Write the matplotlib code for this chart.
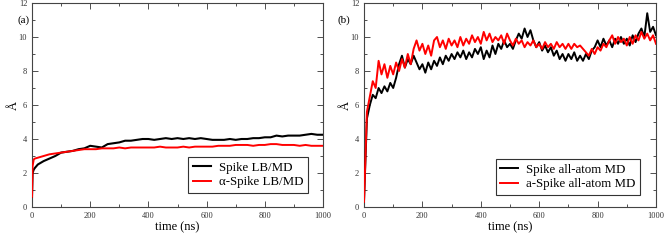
import numpy as np
import matplotlib.pyplot as plt
from matplotlib.ticker import MultipleLocator

plt.rcParams['font.family'] = ['Liberation Serif', 'DejaVu Serif']

# (a) LB/MD runs
t_a = [0, 2, 6, 10] + list(range(20, 1001, 20))
spike_lb = [0.6, 2.0, 2.2, 2.3, 2.5, 2.7, 2.85, 3.0, 3.2, 3.25, 3.3, 3.4, 3.45, 3.6,
            3.55, 3.5, 3.7, 3.75, 3.8, 3.9, 3.9, 3.95, 4.0, 4.0, 3.95, 4.0, 4.05, 4.0,
            4.05, 4.0, 4.05, 4.0, 4.05, 4.0, 3.95, 3.95, 3.95, 4.0, 3.95, 4.0, 4.0,
            4.05, 4.05, 4.1, 4.1, 4.2, 4.15, 4.2, 4.2, 4.2, 4.25, 4.3, 4.25, 4.25]
aspike_lb = [0.6, 2.4, 2.8, 2.85, 2.9, 3.0, 3.1, 3.15, 3.2, 3.25, 3.3, 3.35, 3.4, 3.4,
             3.4, 3.45, 3.45, 3.45, 3.5, 3.45, 3.5, 3.5, 3.5, 3.5, 3.5, 3.55, 3.5, 3.5,
             3.5, 3.55, 3.5, 3.55, 3.55, 3.55, 3.55, 3.6, 3.6, 3.6, 3.65, 3.65, 3.65,
             3.6, 3.65, 3.65, 3.7, 3.7, 3.65, 3.65, 3.65, 3.6, 3.65, 3.6, 3.6, 3.6]

# (b) all-atom MD runs
t_b = list(range(0, 1001, 10))
spike_aa = [0.3, 5.2, 6.0, 6.6, 6.4, 7.0, 6.7, 7.1, 6.8, 7.3, 7.0, 7.6, 8.4, 8.9, 8.2,
            8.7, 8.4, 8.9, 8.5, 8.1, 8.4, 7.9, 8.5, 8.1, 8.6, 8.3, 8.8, 8.4, 8.9, 8.6,
            9.0, 8.7, 9.1, 8.8, 9.2, 8.7, 9.1, 8.8, 9.3, 9.0, 9.4, 8.7, 9.2, 8.8, 9.5,
            9.0, 9.6, 9.3, 9.8, 9.4, 9.6, 9.3, 9.8, 10.2, 9.9, 10.5, 10.0, 10.4, 9.8,
            9.4, 9.7, 9.2, 9.5, 9.1, 9.4, 8.9, 9.2, 8.7, 9.0, 8.6, 9.0, 8.7, 9.1, 8.6,
            8.9, 8.6, 9.0, 8.7, 9.2, 9.4, 9.8, 9.4, 9.9, 9.5, 9.8, 9.4, 9.9, 9.6, 10.0,
            9.6, 9.9, 9.5, 10.1, 9.7, 10.2, 10.5, 10.0, 11.4, 10.3, 10.6, 10.1]
aspike_aa = [0.3, 5.6, 6.5, 7.4, 7.0, 8.6, 7.8, 8.4, 7.6, 8.3, 7.8, 8.5, 8.0, 8.7, 8.2,
             9.0, 8.4, 9.3, 9.8, 9.2, 9.6, 9.0, 9.5, 8.9, 9.8, 10.0, 9.4, 9.8, 9.3, 9.9,
             9.5, 9.8, 9.4, 10.0, 9.5, 9.9, 9.6, 10.1, 9.7, 10.0, 9.6, 10.3, 9.8, 10.2,
             9.7, 10.0, 9.8, 10.1, 9.6, 10.2, 9.8, 9.5, 9.9, 9.6, 9.8, 9.4, 9.7, 9.5,
             9.8, 9.4, 9.6, 9.3, 9.7, 9.4, 9.6, 9.3, 9.7, 9.4, 9.6, 9.3, 9.6, 9.3, 9.6,
             9.4, 9.5, 9.3, 9.1, 8.9, 9.3, 9.0, 9.4, 9.2, 9.6, 9.4, 9.8, 10.1, 9.6, 10.0,
             9.7, 9.9, 9.5, 10.0, 9.6, 10.1, 9.8, 10.3, 9.9, 10.2, 9.8, 10.1, 9.6]

fig = plt.figure(figsize=(6.64, 2.44), dpi=100)
ax1 = fig.add_axes([32/664, 37/244, 291/664, 204/244])
ax2 = fig.add_axes([364/664, 37/244, 292/664, 204/244])

# lines drawn above the spines so the steep first rise stays visible
ax1.plot(t_a, spike_lb, color='black', lw=1.5, label='Spike LB/MD', zorder=3)
ax1.plot(t_a, aspike_lb, color='red', lw=1.4, label='α-Spike LB/MD', zorder=3)
ax2.plot(t_b, spike_aa, color='black', lw=1.4, label='Spike all-atom MD', zorder=3)
ax2.plot(t_b, aspike_aa, color='red', lw=1.4, label='a-Spike all-atom MD', zorder=3)

for ax, lab, xo, anchor in [(ax1, '(a)', -0.03, (0.948, 0.069)), (ax2, '(b)', -0.068, (0.945, 0.059))]:
    ax.set_xlim(0, 1000)
    ax.set_ylim(0, 12)
    ax.xaxis.set_major_locator(MultipleLocator(200))
    ax.xaxis.set_minor_locator(MultipleLocator(100))
    ax.yaxis.set_major_locator(MultipleLocator(2))
    ax.yaxis.set_minor_locator(MultipleLocator(1))
    ax.tick_params(which='both', direction='in', top=True, right=True,
                   labelsize=6, colors='#333333', width=0.6)
    ax.tick_params(which='major', length=4)
    ax.tick_params(which='minor', length=2)
    for s in ax.spines.values():
        s.set_color('#444444')
        s.set_linewidth(0.8)
    ax.set_xlabel('time (ns)', fontsize=9, labelpad=1)
    ax.set_ylabel('Å', fontsize=9, labelpad=-1)
    ax.text(xo, 11, lab, transform=ax.get_yaxis_transform(), fontsize=8,
            ha='center', va='center')
    leg = ax.legend(loc='lower right', bbox_to_anchor=anchor, fontsize=9.3,
                    fancybox=False, framealpha=1, edgecolor='#333333',
                    handlelength=1.4, borderpad=0.35, labelspacing=0.2,
                    handletextpad=0.6, borderaxespad=0)
    leg.get_frame().set_linewidth(0.8)
    leg.set_zorder(5)

fig.savefig('out.png', dpi=100)
